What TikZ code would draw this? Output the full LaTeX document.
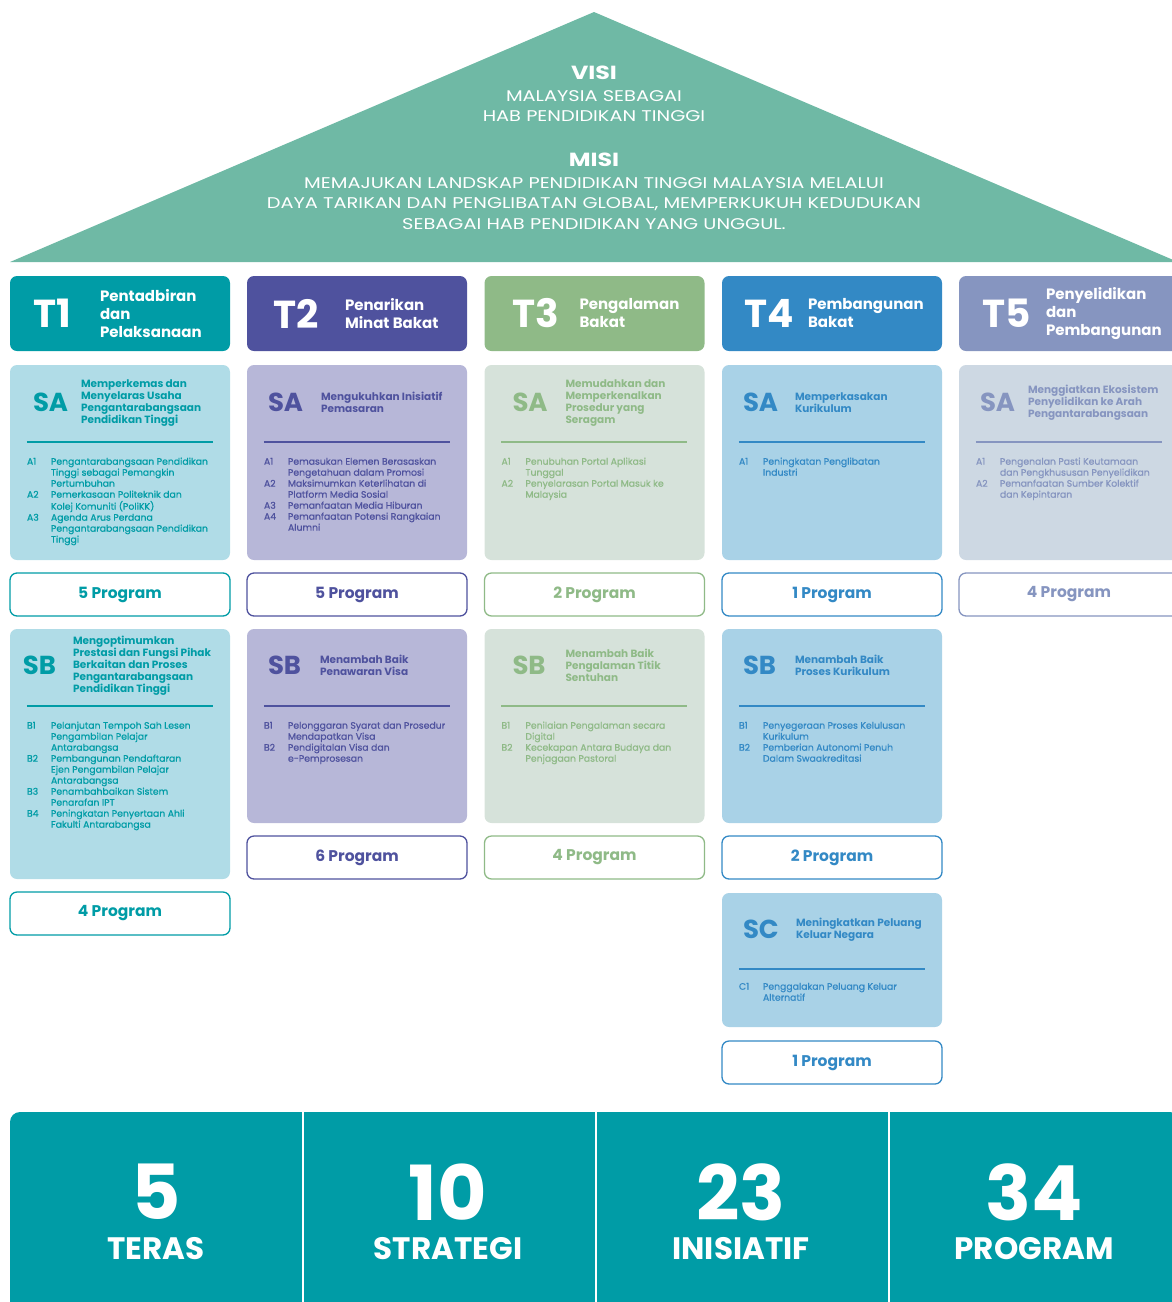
\documentclass[tikz,border=0pt]{standalone}
\usepackage{fontspec}
\setmainfont{Poppins}
\newfontfamily\rooffont[FakeStretch=1.25]{Poppins}
\newfontfamily\itemfont[FakeBold=0.8]{Poppins}
\usepackage{array}
\usetikzlibrary{positioning}

\definecolor{roofgreen}{HTML}{6FB9A5}
\definecolor{tadark}{HTML}{009CA6}
\definecolor{talight}{HTML}{B0DCE7}
\definecolor{tbdark}{HTML}{4F529E}
\definecolor{tblight}{HTML}{B7B7D8}
\definecolor{tcdark}{HTML}{8FBA87}
\definecolor{tclight}{HTML}{D6E2DA}
\definecolor{tddark}{HTML}{3389C5}
\definecolor{tdlight}{HTML}{A9D2E7}
\definecolor{tedark}{HTML}{8695C0}
\definecolor{telight}{HTML}{CDD8E3}

\begin{document}
\begin{tikzpicture}[x=1pt,y=-1pt,
    roof/.style={fill=roofgreen},
    rooftitle/.style={text=white,font=\rooffont\fontsize{19}{24}\selectfont\bfseries,inner sep=0pt},
    rooftext/.style={text=white,font=\rooffont\fontsize{15.5}{20.5}\selectfont,align=center,inner sep=0pt},
    tbox/.style={rounded corners=7pt,minimum width=220pt,inner sep=0pt},
    header/.style={tbox,minimum height=75pt},
    progbox/.style={tbox,fill=white,line width=1.3pt,minimum height=43pt,font=\fontsize{15.5}{18}\selectfont\bfseries},
    tnum/.style={text=white,font=\fontsize{39}{40}\selectfont\bfseries,inner sep=0pt,anchor=west},
    ttitle/.style={text=white,font=\fontsize{15}{18}\selectfont\bfseries,align=left,inner sep=0pt,anchor=west},
    skey/.style={font=\fontsize{26}{28}\selectfont\bfseries,inner sep=0pt,anchor=west},
    stitle/.style={font=\fontsize{10.5}{12}\selectfont\bfseries,align=left,inner sep=0pt,anchor=west},
    sline/.style={line width=1.5pt},
    items/.style={font=\itemfont\fontsize{9.3}{11}\selectfont,inner sep=0pt,anchor=north west},
    band/.style={fill=tadark},
    statnum/.style={text=white,font=\fontsize{76}{80}\selectfont\bfseries,inner sep=0pt},
    statlabel/.style={text=white,font=\fontsize{31}{34}\selectfont\bfseries,inner sep=0pt}]

    \path[use as bounding box] (0,0) rectangle (1172,1302);
    \clip (0,0) rectangle (1172,1302);

    % roof
    \coordinate (roof left) at (10,262);
    \coordinate (roof top) at (594,12);
    \coordinate (roof right) at (1178,262);
    \fill[roof] (roof left) -- (roof top) -- (roof right) -- cycle;
    \node[rooftitle] (visi) at (594,73) {VISI};
    \node[rooftext] (visitext) at (594,106) {MALAYSIA SEBAGAI\\HAB PENDIDIKAN TINGGI};
    \node[rooftitle] (misi) at (594,160) {MISI};
    \node[rooftext] (misitext) at (594,203.5) {MEMAJUKAN LANDSKAP PENDIDIKAN TINGGI MALAYSIA MELALUI\\DAYA TARIKAN DAN PENGLIBATAN GLOBAL, MEMPERKUKUH KEDUDUKAN\\SEBAGAI HAB PENDIDIKAN YANG UNGGUL.};

    % T1
    \node[header,fill=tadark] (t1) at (120,313.5) {};
    \node[tnum] (t1num) at ([xshift=23pt]t1.west) {T1};
    \node[ttitle] (t1title) at ([xshift=90pt]t1.west) {Pentadbiran\\dan\\Pelaksanaan};
    \node[tbox,fill=talight,minimum height=195pt] (t1sa) at (120,462.5) {};
    \node[skey,text=tadark] (t1sakey) at ([xshift=23pt,yshift=-38pt]t1sa.north west) {SA};
    \node[stitle,text=tadark] (t1satitle) at ([xshift=71pt,yshift=-38pt]t1sa.north west) {Memperkemas dan\\Menyelaras Usaha\\Pengantarabangsaan\\Pendidikan Tinggi};
    \draw[sline,tadark] ([xshift=17pt,yshift=-77pt]t1sa.north west) -- ([xshift=203pt,yshift=-77pt]t1sa.north west);
    \node[items,text=tadark] (t1saitems) at ([xshift=17pt,yshift=-92pt]t1sa.north west) {\begin{tabular}{@{}p{24pt}@{}l@{}}
        A1 & Pengantarabangsaan Pendidikan\\ & Tinggi sebagai Pemangkin\\ & Pertumbuhan\\
        A2 & Pemerkasaan Politeknik dan\\ & Kolej Komuniti (PoliKK)\\
        A3 & Agenda Arus Perdana\\ & Pengantarabangsaan Pendidikan\\ & Tinggi
      \end{tabular}};
    \node[progbox,draw=tadark,text=tadark] (t1pa) at (120,594.5) {5 Program};
    \node[tbox,fill=talight,minimum height=250pt] (t1sb) at (120,754) {};
    \node[skey,text=tadark] (t1sbkey) at ([xshift=13pt,yshift=-37pt]t1sb.north west) {SB};
    \node[stitle,text=tadark] (t1sbtitle) at ([xshift=63pt,yshift=-37pt]t1sb.north west) {Mengoptimumkan\\Prestasi dan Fungsi Pihak\\Berkaitan dan Proses\\Pengantarabangsaan\\Pendidikan Tinggi};
    \draw[sline,tadark] ([xshift=17pt,yshift=-77pt]t1sb.north west) -- ([xshift=203pt,yshift=-77pt]t1sb.north west);
    \node[items,text=tadark] (t1sbitems) at ([xshift=17pt,yshift=-92pt]t1sb.north west) {\begin{tabular}{@{}p{24pt}@{}l@{}}
        B1 & Pelanjutan Tempoh Sah Lesen\\ & Pengambilan Pelajar\\ & Antarabangsa\\
        B2 & Pembangunan Pendaftaran\\ & Ejen Pengambilan Pelajar\\ & Antarabangsa\\
        B3 & Penambahbaikan Sistem\\ & Penarafan IPT\\
        B4 & Peningkatan Penyertaan Ahli\\ & Fakulti Antarabangsa
      \end{tabular}};
    \node[progbox,draw=tadark,text=tadark] (t1pb) at (120,913.5) {4 Program};

    % T2
    \node[header,fill=tbdark] (t2) at (357,313.5) {};
    \node[tnum] (t2num) at ([xshift=26pt]t2.west) {T2};
    \node[ttitle] (t2title) at ([xshift=98pt]t2.west) {Penarikan\\Minat Bakat};
    \node[tbox,fill=tblight,minimum height=195pt] (t2sa) at (357,462.5) {};
    \node[skey,text=tbdark] (t2sakey) at ([xshift=21pt,yshift=-38pt]t2sa.north west) {SA};
    \node[stitle,text=tbdark] (t2satitle) at ([xshift=74pt,yshift=-38pt]t2sa.north west) {Mengukuhkan Inisiatif\\Pemasaran};
    \draw[sline,tbdark] ([xshift=17pt,yshift=-77pt]t2sa.north west) -- ([xshift=203pt,yshift=-77pt]t2sa.north west);
    \node[items,text=tbdark] (t2saitems) at ([xshift=17pt,yshift=-92pt]t2sa.north west) {\begin{tabular}{@{}p{24pt}@{}l@{}}
        A1 & Pemasukan Elemen Berasaskan\\ & Pengetahuan dalam Promosi\\
        A2 & Maksimumkan Keterlihatan di\\ & Platform Media Sosial\\
        A3 & Pemanfaatan Media Hiburan\\
        A4 & Pemanfaatan Potensi Rangkaian\\ & Alumni
      \end{tabular}};
    \node[progbox,draw=tbdark,text=tbdark] (t2pa) at (357,594.5) {5 Program};
    \node[tbox,fill=tblight,minimum height=194pt] (t2sb) at (357,726) {};
    \node[skey,text=tbdark] (t2sbkey) at ([xshift=21pt,yshift=-37pt]t2sb.north west) {SB};
    \node[stitle,text=tbdark] (t2sbtitle) at ([xshift=73pt,yshift=-37pt]t2sb.north west) {Menambah Baik\\Penawaran Visa};
    \draw[sline,tbdark] ([xshift=17pt,yshift=-77pt]t2sb.north west) -- ([xshift=203pt,yshift=-77pt]t2sb.north west);
    \node[items,text=tbdark] (t2sbitems) at ([xshift=17pt,yshift=-92pt]t2sb.north west) {\begin{tabular}{@{}p{24pt}@{}l@{}}
        B1 & Pelonggaran Syarat dan Prosedur\\ & Mendapatkan Visa\\
        B2 & Pendigitalan Visa dan\\ & e-Pemprosesan
      \end{tabular}};
    \node[progbox,draw=tbdark,text=tbdark] (t2pb) at (357,857.5) {6 Program};

    % T3
    \node[header,fill=tcdark] (t3) at (594.5,313.5) {};
    \node[tnum] (t3num) at ([xshift=28pt]t3.west) {T3};
    \node[ttitle] (t3title) at ([xshift=95pt]t3.west) {Pengalaman\\Bakat};
    \node[tbox,fill=tclight,minimum height=195pt] (t3sa) at (594.5,462.5) {};
    \node[skey,text=tcdark] (t3sakey) at ([xshift=28pt,yshift=-38pt]t3sa.north west) {SA};
    \node[stitle,text=tcdark] (t3satitle) at ([xshift=81pt,yshift=-38pt]t3sa.north west) {Memudahkan dan\\Memperkenalkan\\Prosedur yang\\Seragam};
    \draw[sline,tcdark] ([xshift=17pt,yshift=-77pt]t3sa.north west) -- ([xshift=203pt,yshift=-77pt]t3sa.north west);
    \node[items,text=tcdark] (t3saitems) at ([xshift=17pt,yshift=-92pt]t3sa.north west) {\begin{tabular}{@{}p{24pt}@{}l@{}}
        A1 & Penubuhan Portal Aplikasi\\ & Tunggal\\
        A2 & Penyelarasan Portal Masuk ke\\ & Malaysia
      \end{tabular}};
    \node[progbox,draw=tcdark,text=tcdark] (t3pa) at (594.5,594.5) {2 Program};
    \node[tbox,fill=tclight,minimum height=194pt] (t3sb) at (594.5,726) {};
    \node[skey,text=tcdark] (t3sbkey) at ([xshift=28pt,yshift=-37pt]t3sb.north west) {SB};
    \node[stitle,text=tcdark] (t3sbtitle) at ([xshift=81pt,yshift=-37pt]t3sb.north west) {Menambah Baik\\Pengalaman Titik\\Sentuhan};
    \draw[sline,tcdark] ([xshift=17pt,yshift=-77pt]t3sb.north west) -- ([xshift=203pt,yshift=-77pt]t3sb.north west);
    \node[items,text=tcdark] (t3sbitems) at ([xshift=17pt,yshift=-92pt]t3sb.north west) {\begin{tabular}{@{}p{24pt}@{}l@{}}
        B1 & Penilaian Pengalaman secara\\ & Digital\\
        B2 & Kecekapan Antara Budaya dan\\ & Penjagaan Pastoral
      \end{tabular}};
    \node[progbox,draw=tcdark,text=tcdark] (t3pb) at (594.5,857.5) {4 Program};

    % T4
    \node[header,fill=tddark] (t4) at (832,313.5) {};
    \node[tnum] (t4num) at ([xshift=22pt]t4.west) {T4};
    \node[ttitle] (t4title) at ([xshift=86pt]t4.west) {Pembangunan\\Bakat};
    \node[tbox,fill=tdlight,minimum height=195pt] (t4sa) at (832,462.5) {};
    \node[skey,text=tddark] (t4sakey) at ([xshift=21pt,yshift=-38pt]t4sa.north west) {SA};
    \node[stitle,text=tddark] (t4satitle) at ([xshift=73pt,yshift=-38pt]t4sa.north west) {Memperkasakan\\Kurikulum};
    \draw[sline,tddark] ([xshift=17pt,yshift=-77pt]t4sa.north west) -- ([xshift=203pt,yshift=-77pt]t4sa.north west);
    \node[items,text=tddark] (t4saitems) at ([xshift=17pt,yshift=-92pt]t4sa.north west) {\begin{tabular}{@{}p{24pt}@{}l@{}}
        A1 & Peningkatan Penglibatan\\ & Industri
      \end{tabular}};
    \node[progbox,draw=tddark,text=tddark] (t4pa) at (832,594.5) {1 Program};
    \node[tbox,fill=tdlight,minimum height=194pt] (t4sb) at (832,726) {};
    \node[skey,text=tddark] (t4sbkey) at ([xshift=21pt,yshift=-37pt]t4sb.north west) {SB};
    \node[stitle,text=tddark] (t4sbtitle) at ([xshift=73pt,yshift=-37pt]t4sb.north west) {Menambah Baik\\Proses Kurikulum};
    \draw[sline,tddark] ([xshift=17pt,yshift=-77pt]t4sb.north west) -- ([xshift=203pt,yshift=-77pt]t4sb.north west);
    \node[items,text=tddark] (t4sbitems) at ([xshift=17pt,yshift=-92pt]t4sb.north west) {\begin{tabular}{@{}p{24pt}@{}l@{}}
        B1 & Penyegeraan Proses Kelulusan\\ & Kurikulum\\
        B2 & Pemberian Autonomi Penuh\\ & Dalam Swaakreditasi
      \end{tabular}};
    \node[progbox,draw=tddark,text=tddark] (t4pb) at (832,857.5) {2 Program};
    \node[tbox,fill=tdlight,minimum height=134pt] (t4sc) at (832,960) {};
    \node[skey,text=tddark] (t4sckey) at ([xshift=21pt,yshift=-37pt]t4sc.north west) {SC};
    \node[stitle,text=tddark] (t4sctitle) at ([xshift=74pt,yshift=-37pt]t4sc.north west) {Meningkatkan Peluang\\Keluar Negara};
    \draw[sline,tddark] ([xshift=17pt,yshift=-76pt]t4sc.north west) -- ([xshift=203pt,yshift=-76pt]t4sc.north west);
    \node[items,text=tddark] (t4scitems) at ([xshift=17pt,yshift=-89pt]t4sc.north west) {\begin{tabular}{@{}p{24pt}@{}l@{}}
        C1 & Penggalakan Peluang Keluar\\ & Alternatif
      \end{tabular}};
    \node[progbox,draw=tddark,text=tddark] (t4pc) at (832,1062.5) {1 Program};

    % T5
    \node[header,fill=tedark] (t5) at (1069,313.5) {};
    \node[tnum] (t5num) at ([xshift=23pt]t5.west) {T5};
    \node[ttitle] (t5title) at ([xshift=87pt]t5.west) {Penyelidikan\\dan\\Pembangunan};
    \node[tbox,fill=telight,minimum height=195pt] (t5sa) at (1069,462.5) {};
    \node[skey,text=tedark] (t5sakey) at ([xshift=21pt,yshift=-38pt]t5sa.north west) {SA};
    \node[stitle,text=tedark] (t5satitle) at ([xshift=69pt,yshift=-38pt]t5sa.north west) {Menggiatkan Ekosistem\\Penyelidikan ke Arah\\Pengantarabangsaan};
    \draw[sline,tedark] ([xshift=17pt,yshift=-77pt]t5sa.north west) -- ([xshift=203pt,yshift=-77pt]t5sa.north west);
    \node[items,text=tedark] (t5saitems) at ([xshift=17pt,yshift=-92pt]t5sa.north west) {\begin{tabular}{@{}p{24pt}@{}l@{}}
        A1 & Pengenalan Pasti Keutamaan\\ & dan Pengkhususan Penyelidikan\\
        A2 & Pemanfaatan Sumber Kolektif\\ & dan Kepintaran
      \end{tabular}};
    \node[progbox,draw=tedark,text=tedark] (t5pa) at (1069,594.5) {4 Program};

    % summary band
    \fill[band] (10,1302) {[rounded corners=10pt] -- (10,1112) -- (1180,1112)} -- (1180,1302) -- cycle;
    \draw[white,line width=2pt] (302.5,1112) -- (302.5,1302);
    \draw[white,line width=2pt] (595.5,1112) -- (595.5,1302);
    \draw[white,line width=2pt] (888.5,1112) -- (888.5,1302);
    \node[statnum] (nteras) at (156,1192) {5};
    \node[statlabel] (lteras) at (156,1249) {TERAS};
    \node[statnum] (nstrategi) at (448,1192) {10};
    \node[statlabel] (lstrategi) at (448,1249) {STRATEGI};
    \node[statnum] (ninisiatif) at (741,1192) {23};
    \node[statlabel] (linisiatif) at (741,1249) {INISIATIF};
    \node[statnum] (nprogram) at (1034,1192) {34};
    \node[statlabel] (lprogram) at (1034,1249) {PROGRAM};
\end{tikzpicture}
\end{document}
